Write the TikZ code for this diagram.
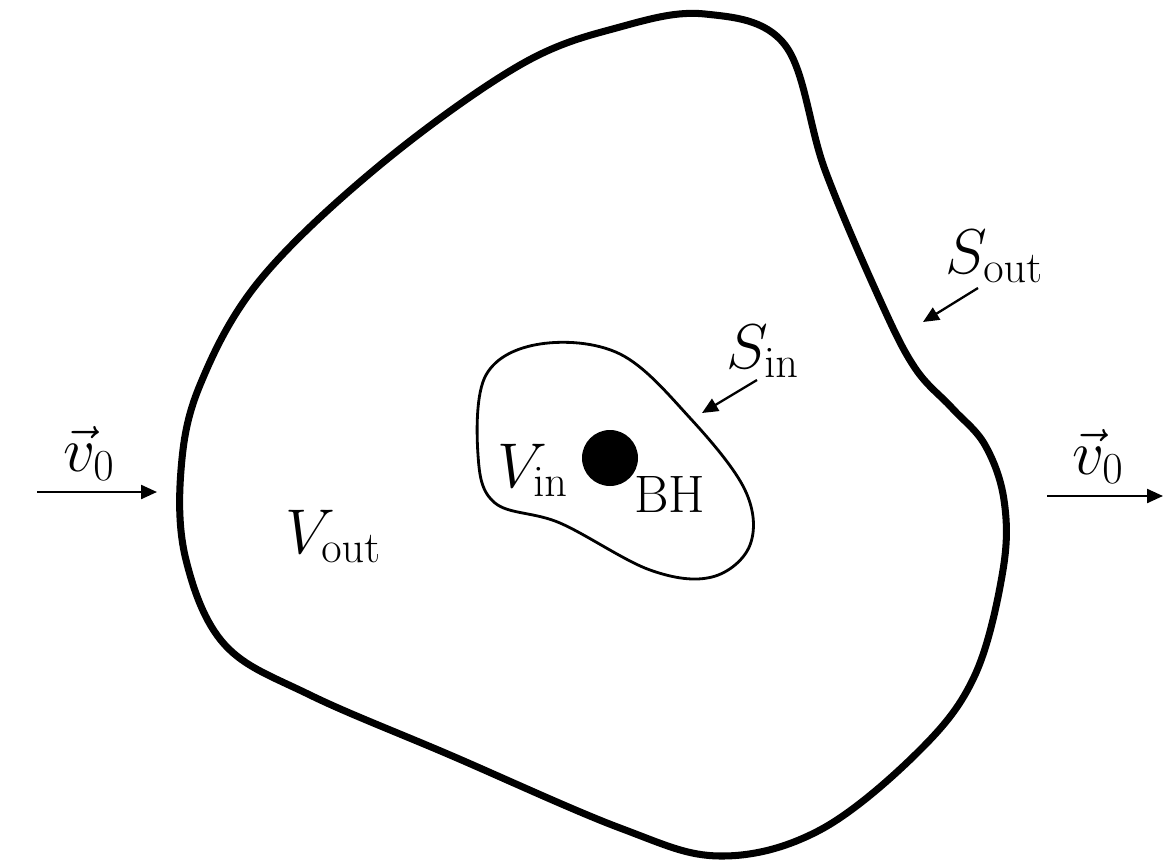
\RequirePackage{fix-cm}
\documentclass[tikz,border=0pt]{standalone}
\usetikzlibrary{arrows.meta}
\begin{document}
\begin{tikzpicture}[x=0.02cm,y=-0.02cm,
  lbl/.style={font=\fontsize{36}{43}\selectfont, inner sep=0pt, anchor=base west},
  small/.style={font=\fontsize{30}{36}\selectfont, inner sep=0pt, anchor=base west},
  outer/.style={line width=4pt, line join=round},
  inner/.style={line width=1.6pt, line join=round},
  arr/.style={line width=1.3pt, -{Triangle[length=0.32cm,width=0.28cm]}}]
\useasboundingbox (0,0) rectangle (1163,865);
% outer surface
\draw[outer] plot[smooth cycle, tension=0.6] coordinates {
 (705,14) (785,45) (825,170) (880,300) (915,368) (952,408) (985,445)
 (1004,500) (1003,570) (975,675) (920,750) (820,830) (720,856) (620,828)
 (450,755) (310,695) (225,645) (186,560) (181,470) (200,385) (260,280)
 (380,165) (520,65) (620,27)};
% inner surface
\draw[inner] plot[smooth cycle, tension=0.6] coordinates {
 (540,344) (620,354) (690,418) (745,490) (750,545) (712,577) (650,570)
 (560,523) (495,503) (478,455) (486,375)};
% black hole
\fill (610,458) circle[radius=28];
% labels
\node[lbl] (vout) at (285,553) {$V_{\mathrm{out}}$};
\node[lbl] (vin) at (497,487) {$V_{\mathrm{in}}$};
\node[small] (bh) at (634,512) {BH};
\node[lbl] (sin) at (726,368) {$S_{\mathrm{in}}$};
\node[lbl] (sout) at (945,273) {$S_{\mathrm{out}}$};
\node[lbl] (vl) at (63,471) {$\vec v_0$};
\node[lbl] (vr) at (1072,474) {$\vec v_0$};
% arrows
\coordinate (sintail) at (757,380);
\coordinate (sintip) at (702,413);
\coordinate (souttail) at (978,288);
\coordinate (souttip) at (923,322);
\coordinate (lt) at (37,492);
\coordinate (lh) at (157,492);
\coordinate (rt) at (1047,496);
\coordinate (rh) at (1163,496);
\draw[arr] (sintail) -- (sintip);
\draw[arr] (souttail) -- (souttip);
\draw[arr] (lt) -- (lh);
\draw[arr] (rt) -- (rh);
\end{tikzpicture}
\end{document}
